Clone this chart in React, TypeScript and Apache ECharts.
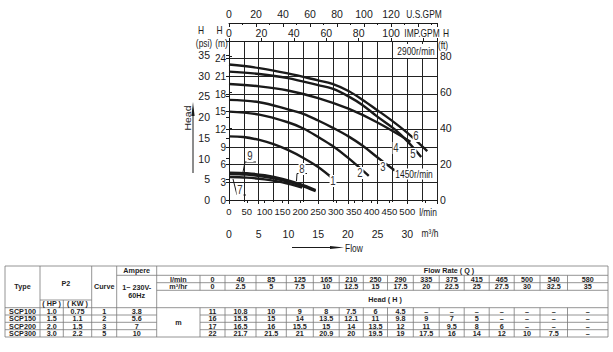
import React, { useEffect, useRef } from 'react';
import * as echarts from 'echarts';

// ---------- axis conversions ----------
const FLOW_MAX_M3H = 35;
const HEAD_MAX_M = 27;
const LPM_PER_M3H = 1000 / 60;
const LPM_PER_IMPGPM = 4.54609;
const LPM_PER_USGPM = 3.78541;
const M_PER_PSI = 0.70307;
const FT_PER_M = 3.28084;
const FLOW_MAX_LPM = FLOW_MAX_M3H * LPM_PER_M3H;

// ---------- pump curves: [flow l/min, head m] ----------
const CURVE1 = [[0, 10.8], [40, 10.7], [85, 10.2], [125, 9.5], [165, 8.5], [210, 7.1], [250, 5.6], [290, 3.7]];
const CURVE2 = [[0, 15], [85, 14.5], [165, 13.2], [210, 12.1], [250, 10.7], [290, 9.2], [335, 7.1], [392, 4.1]];
const CURVE3 = [[0, 17], [85, 16.6], [165, 15.4], [210, 14.6], [250, 13.5], [290, 12.3], [335, 10.8], [375, 9.2], [415, 7.3], [465, 5.0]];
const CURVE4 = [[0, 19.7], [85, 19.3], [165, 18.6], [250, 17.3], [335, 15.5], [415, 13.2], [509, 9.9]];
const CURVE5 = [[0, 21.8], [85, 21.4], [165, 20.7], [250, 19.5], [290, 18.9], [335, 17.6], [375, 16.1], [415, 14.2], [465, 12], [500, 10], [539, 7.3]];
const CURVE6 = [[0, 23], [85, 22.4], [165, 21.5], [250, 20.3], [290, 19.7], [335, 18.5], [375, 17.0], [415, 15.3], [465, 13.1], [510, 10.9], [556, 8.3]];
const CURVE7 = [[0, 3.9], [50, 3.8], [100, 3.5], [150, 3.0], [205, 2.1]];
const CURVE8 = [[0, 4.4], [50, 4.3], [100, 3.95], [150, 3.35], [200, 2.5], [243, 1.5]];
const CURVE9 = [[0, 4.65], [50, 4.55], [100, 4.2], [150, 3.6], [200, 2.7], [243, 1.7]];
const CURVES = [CURVE1, CURVE2, CURVE3, CURVE4, CURVE5, CURVE6, CURVE7, CURVE8, CURVE9];

// curve number labels
const CURVE_LABELS = ['1', '2', '3', '4', '5', '6', '7', '8', '9'];
const CURVE_LABEL_POS = [[333, 181], [360, 173], [383, 167], [396, 148], [413, 154], [416, 136], [240, 190], [302, 169], [250, 156]];

// ---------- table ----------
const TBL_FLOW_LPM = ['0', '40', '85', '125', '165', '210', '250', '290', '335', '375', '415', '465', '500', '540', '580'];
const TBL_FLOW_M3H = ['0', '2.5', '5', '7.5', '10', '12.5', '15', '17.5', '20', '22.5', '25', '27.5', '30', '32.5', '35'];
const TBL_TYPE = ['SCP100', 'SCP150', 'SCP200', 'SCP300'];
const TBL_HP = ['1.0', '1.5', '2.0', '3.0'];
const TBL_KW = ['0.75', '1.1', '1.5', '2.2'];
const TBL_CURVE = ['1', '2', '3', '5'];
const TBL_AMP = ['3.8', '5.6', '7', '10'];
const D = '–';
const TBL_HEAD_SCP100 = ['11', '10.8', '10', '9', '8', '7.5', '6', '4.5', D, D, D, D, D, D, D];
const TBL_HEAD_SCP150 = ['16', '15.5', '15', '14', '13.5', '12.1', '11', '9.8', '9', '7', '5', D, D, D, D];
const TBL_HEAD_SCP200 = ['17', '16.5', '16', '15.5', '15', '14', '13.5', '12', '11', '9.5', '8', '6', D, D, D];
const TBL_HEAD_SCP300 = ['22', '21.7', '21.5', '21', '20.9', '20', '19.5', '19', '17.5', '16', '14', '12', '10', '7.5', D];
const TBL_HEADS = [TBL_HEAD_SCP100, TBL_HEAD_SCP150, TBL_HEAD_SCP200, TBL_HEAD_SCP300];

const FONT = '"Liberation Sans", Arial, sans-serif';
const INK = '#1a1a1a';
const NARROW_X = 0.8;

function stepFmt(step: number, maxShown: number) {
  return (v: number) => {
    const k = v / step;
    if (Math.abs(k - Math.round(k)) < 1e-6 && v <= maxShown + 1e-6) return String(Math.round(v * 100) / 100);
    return '';
  };
}

function text(x: number, y: number, t: string, extra: any = {}) {
  const { align = 'center', vAlign = 'middle', size = 10.5, weight = 'normal', color = INK, bg, rotation, sx = NARROW_X } = extra;
  const el: any = {
    type: 'text', x, y, z: 100, scaleX: sx,
    style: {
      text: t, fill: color, fontSize: size, fontFamily: FONT, fontWeight: weight,
      align, textAlign: align, verticalAlign: vAlign, textVerticalAlign: vAlign,
    },
  };
  if (bg) { el.style.backgroundColor = bg; el.style.padding = [0, 1]; }
  if (rotation) { el.rotation = rotation; el.scaleX = 1; el.scaleY = sx; }
  return el;
}
function line(x1: number, y1: number, x2: number, y2: number, color = '#7a7a7a', w = 0.8) {
  return { type: 'line', z: 90, shape: { x1, y1, x2, y2 }, style: { stroke: color, lineWidth: w } };
}

function buildGraphics() {
  const g: any[] = [];
  // axis unit names
  g.push(text(201, 30, 'H'));
  g.push(text(204, 43, '(psi)'));
  g.push(text(219.5, 30, 'H'));
  g.push(text(221.5, 43, '(m)'));
  g.push(text(446, 33, 'H'));
  g.push(text(443, 45, '(ft)'));
  g.push(text(424, 14, 'U.S.GPM'));
  g.push(text(422, 33, 'IMP.GPM'));
  g.push(text(428, 212, 'l/min'));
  g.push(text(430, 233, 'm³/h'));
  // Head arrow
  g.push(text(187.5, 118, 'Head', { rotation: Math.PI / 2, size: 10.5 }));
  g.push({ type: 'line', z: 90, shape: { x1: 193, y1: 173, x2: 193, y2: 112 }, style: { stroke: INK, lineWidth: 1 } });
  g.push({ type: 'polygon', z: 90, shape: { points: [[193, 102], [191.4, 116], [194.6, 116]] }, style: { fill: INK } });
  // Flow arrow
  g.push({ type: 'line', z: 90, shape: { x1: 292, y1: 247.5, x2: 334, y2: 247.5 }, style: { stroke: INK, lineWidth: 1 } });
  g.push({ type: 'polygon', z: 90, shape: { points: [[344, 247.5], [330, 245.9], [330, 249.1]] }, style: { fill: INK } });
  g.push(text(345, 248, 'Flow', { align: 'left' }));
  // speed boxes
  g.push({ type: 'rect', z: 95, shape: { x: 397, y: 44, width: 39, height: 14 }, style: { fill: '#fff' } });
  g.push(text(416, 51.5, '2900r/min'));
  g.push(text(414, 174, '1450r/min', { bg: '#fff' }));
  // leader lines for curves 7, 8, 9
  g.push({ type: 'polyline', z: 95, shape: { points: [[256, 162], [245, 162], [243, 172]] }, style: { stroke: INK, lineWidth: 1, fill: null } });
  g.push({ type: 'polyline', z: 95, shape: { points: [[307, 173.5], [297, 173.5], [296.5, 181]] }, style: { stroke: INK, lineWidth: 1, fill: null } });
  g.push({ type: 'polyline', z: 95, shape: { points: [[233, 179], [237, 195], [246, 195]] }, style: { stroke: INK, lineWidth: 1, fill: null } });
  // curve labels
  CURVE_LABELS.forEach((t, i) => {
    const [x, y] = CURVE_LABEL_POS[i];
    g.push(text(x, y, t, { size: 12, color: '#333', bg: '#fff' }));
  });

  // ---------- table ----------
  const L = 5, R = 608;
  const cx = [5, 40, 63.3, 91.7, 116.7, 156.7, 200];
  const fx = [200, 225, 256, 286.3, 313.3, 339.2, 363.3, 387.5, 413.3, 439.2, 464.2, 489.2, 514.2, 540, 567.5, R];
  const T0 = 266, T1 = 275.3, T2 = 282.7, T3 = 290.3, T4 = 300, T5 = 307.7;
  const rows = [307.7, 315, 322.3, 329.7, 337];
  const B = 337;
  g.push(line(L, T0, R, T0));
  g.push(line(cx[4], T1, R, T1));
  g.push(line(cx[5], T2, R, T2));
  g.push(line(cx[5], T3, R, T3));
  g.push(line(cx[1], T4, cx[3], T4));
  g.push(line(L, T5, R, T5));
  for (let i = 1; i < rows.length - 1; i++) {
    g.push(line(L, rows[i], cx[5], rows[i]));
    g.push(line(cx[6], rows[i], R, rows[i]));
  }
  g.push(line(L, B, R, B));
  [0, 1, 3, 4, 5].forEach((i) => g.push(line(cx[i], T0, cx[i], B)));
  g.push(line(cx[2], T4, cx[2], B));
  g.push(line(R, T0, R, B));
  for (let i = 0; i < fx.length - 1; i++) {
    g.push(line(fx[i], T1, fx[i], T3));
    g.push(line(fx[i], T5, fx[i], B));
  }
  const tb = (x: number, y: number, t: string) => text(x, y, t, { size: 8, weight: 'bold', color: '#1e1e1e', sx: 0.9 });
  g.push(tb((cx[0] + cx[1]) / 2, (T0 + T5) / 2, 'Type'));
  g.push(tb((cx[1] + cx[3]) / 2, (T0 + T4) / 2, 'P2'));
  g.push(tb((cx[1] + cx[2]) / 2, (T4 + T5) / 2, '( HP )'));
  g.push(tb((cx[2] + cx[3]) / 2, (T4 + T5) / 2, '( KW )'));
  g.push(tb((cx[3] + cx[4]) / 2, (T0 + T5) / 2, 'Curve'));
  g.push(tb((cx[4] + cx[5]) / 2, (T0 + T1) / 2, 'Ampere'));
  g.push(tb((cx[4] + cx[5]) / 2, 287, '1~ 230V-'));
  g.push(tb((cx[4] + cx[5]) / 2, 295, '60Hz'));
  g.push(tb(449, (T0 + T1) / 2, 'Flow Rate ( Q )'));
  g.push(tb((cx[5] + cx[6]) / 2, (T1 + T2) / 2, 'l/min'));
  g.push(tb((cx[5] + cx[6]) / 2, (T2 + T3) / 2, 'm³/hr'));
  g.push(tb(385, (T3 + T5) / 2, 'Head ( H )'));
  g.push(tb((cx[5] + cx[6]) / 2, (T5 + B) / 2, 'm'));
  for (let j = 0; j < TBL_FLOW_LPM.length; j++) {
    const x = (fx[j] + fx[j + 1]) / 2;
    g.push(tb(x, (T1 + T2) / 2, TBL_FLOW_LPM[j]));
    g.push(tb(x, (T2 + T3) / 2, TBL_FLOW_M3H[j]));
  }
  for (let i = 0; i < TBL_TYPE.length; i++) {
    const y = (rows[i] + rows[i + 1]) / 2;
    g.push(tb((cx[0] + cx[1]) / 2, y, TBL_TYPE[i]));
    g.push(tb((cx[1] + cx[2]) / 2, y, TBL_HP[i]));
    g.push(tb((cx[2] + cx[3]) / 2, y, TBL_KW[i]));
    g.push(tb((cx[3] + cx[4]) / 2, y, TBL_CURVE[i]));
    g.push(tb((cx[4] + cx[5]) / 2, y, TBL_AMP[i]));
    TBL_HEADS[i].forEach((v, j) => g.push(tb((fx[j] + fx[j + 1]) / 2, y, v)));
  }
  return g;
}

function buildOption(): any {
  const axisText = { fontFamily: FONT, fontSize: 10.5, color: INK };
  const blackLine = { lineStyle: { color: INK, width: 1 } };
  return {
    animation: false,
    backgroundColor: '#fff',
    grid: { left: 229, top: 41, width: 208, height: 159, containLabel: false },
    xAxis: [
      { // l/min (data axis)
        type: 'value', position: 'bottom', min: 0, max: FLOW_MAX_LPM, interval: 50,
        axisLine: { show: true, ...blackLine }, axisTick: { show: true, length: 3, ...blackLine },
        axisLabel: { ...axisText, fontSize: 9.5, margin: 6, formatter: stepFmt(50, 500) }, splitLine: { show: false },
      },
      { // m3/h
        type: 'value', position: 'bottom', offset: 23, min: 0, max: FLOW_MAX_M3H, interval: 5,
        axisLine: { show: true, ...blackLine }, axisTick: { show: true, length: 4, ...blackLine },
        minorTick: { show: true, splitNumber: 2, length: 2, ...blackLine },
        axisLabel: { ...axisText, margin: 5, formatter: stepFmt(5, 30) }, splitLine: { show: false },
      },
      { // grid columns every 2.5 m3/h
        type: 'value', position: 'bottom', min: 0, max: FLOW_MAX_M3H, interval: 2.5,
        axisLine: { show: false }, axisTick: { show: false }, axisLabel: { show: false },
        splitLine: { show: true, lineStyle: { color: '#222', width: 1 } },
      },
      { // IMP GPM
        type: 'value', position: 'top', min: 0, max: FLOW_MAX_LPM / LPM_PER_IMPGPM, interval: 20,
        axisLine: { show: true, ...blackLine }, axisTick: { show: true, length: 3, ...blackLine },
        axisLabel: { ...axisText, margin: 3, formatter: stepFmt(20, 100) }, splitLine: { show: false },
      },
      { // US GPM
        type: 'value', position: 'top', offset: 18, min: 0, max: FLOW_MAX_LPM / LPM_PER_USGPM, interval: 20,
        axisLine: { show: true, ...blackLine }, axisTick: { show: true, inside: true, length: 4, ...blackLine },
        minorTick: { show: true, splitNumber: 2, length: 2, ...blackLine },
        axisLabel: { ...axisText, margin: 4, formatter: stepFmt(20, 120) }, splitLine: { show: false },
      },
    ],
    yAxis: [
      { // m
        type: 'value', position: 'left', min: 0, max: HEAD_MAX_M, interval: 3,
        axisLine: { show: true, ...blackLine }, axisTick: { show: true, length: 3, ...blackLine },
        axisLabel: { ...axisText, fontSize: 10, margin: 3, formatter: stepFmt(3, 24) },
        splitLine: { show: true, lineStyle: { color: '#222', width: 1 } },
      },
      { // psi
        type: 'value', position: 'left', offset: 16, min: 0, max: HEAD_MAX_M / M_PER_PSI, interval: 5,
        axisLine: { show: true, ...blackLine }, axisTick: { show: true, length: 3, ...blackLine },
        axisLabel: { ...axisText, margin: 3, formatter: stepFmt(5, 35) }, splitLine: { show: false },
      },
      { // ft
        type: 'value', position: 'right', min: 0, max: HEAD_MAX_M * FT_PER_M, interval: 20,
        axisLine: { show: true, ...blackLine }, axisTick: { show: true, length: 3, ...blackLine },
        axisLabel: { ...axisText, margin: 3, formatter: stepFmt(20, 80) }, splitLine: { show: false },
      },
    ],
    series: CURVES.map((data, i) => ({
      type: 'line', name: 'Curve ' + CURVE_LABELS[i], xAxisIndex: 0, yAxisIndex: 0,
      data, smooth: 0.35, symbol: 'none', z: 10,
      lineStyle: { color: INK, width: 2.4 },
    })),
    graphic: { elements: buildGraphics() },
  };
}

export default function App() {
  const ref = useRef<HTMLDivElement>(null);
  useEffect(() => {
    document.body.style.margin = '0';
    const chart = echarts.init(ref.current!, null, { renderer: 'svg' });
    chart.setOption(buildOption());
    return () => chart.dispose();
  }, []);
  return <div ref={ref} style={{ position: 'absolute', left: 0, top: 0, width: 613, height: 352, background: '#fff' }} />;
}
